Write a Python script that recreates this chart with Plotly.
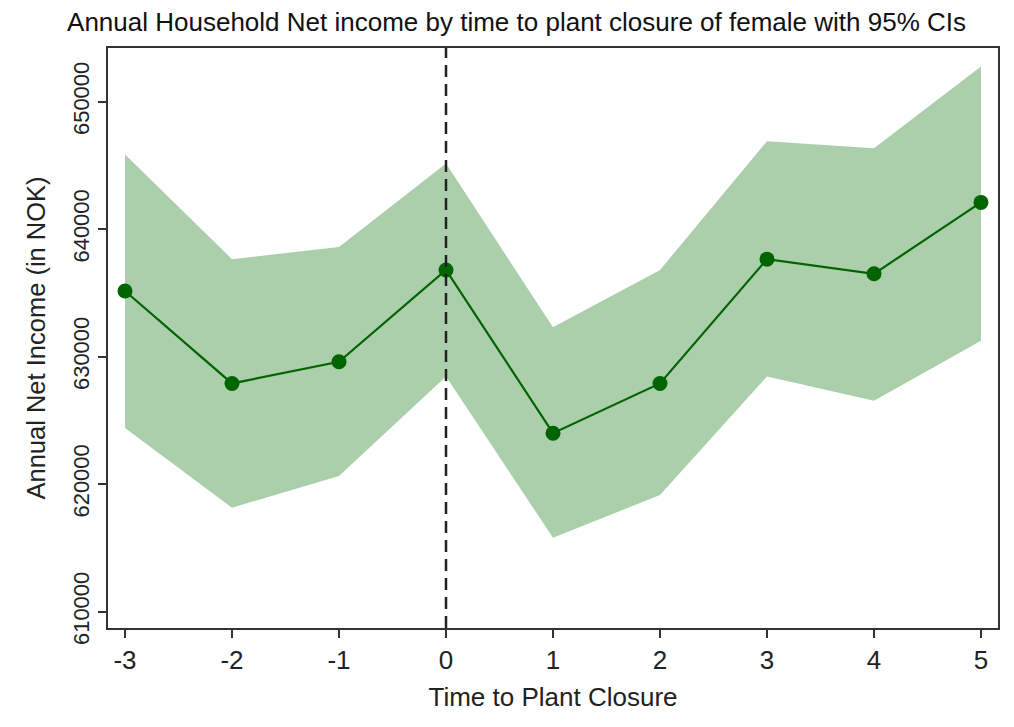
import plotly.graph_objects as go

time = [-3, -2, -1, 0, 1, 2, 3, 4, 5]
time_labels = ["-3", "-2", "-1", "0", "1", "2", "3", "4", "5"]
estimate = [635150, 627900, 629600, 636800, 624000, 627900, 637650, 636500, 642100]
upper_ci = [645850, 637650, 638600, 645150, 632300, 636800, 646900, 646350, 652750]
lower_ci = [624400, 618150, 620650, 628450, 615800, 619150, 628450, 626550, 631250]
y_ticks = [610000, 620000, 630000, 640000, 650000]
y_labels = ["610000", "620000", "630000", "640000", "650000"]

font = "Liberation Sans, Arial, sans-serif"
fig = go.Figure()
fig.add_trace(go.Scatter(x=time, y=upper_ci, mode="lines", line=dict(width=0),
                         hoverinfo="skip", showlegend=False))
fig.add_trace(go.Scatter(x=time, y=lower_ci, mode="lines", line=dict(width=0),
                         fill="tonexty", fillcolor="rgba(0,110,0,0.33)",
                         hoverinfo="skip", showlegend=False))
fig.add_trace(go.Scatter(x=time, y=estimate, mode="lines+markers",
                         line=dict(color="#006400", width=2.2),
                         marker=dict(color="#006400", size=15),
                         showlegend=False))
fig.add_vline(x=0, line=dict(color="#222222", width=2.5, dash="12px,7px"))

fig.update_layout(
    width=1014, height=727,
    margin=dict(l=100, r=24, t=40, b=107),
    paper_bgcolor="white", plot_bgcolor="white",
    font=dict(family=font, size=24, color="#222222"),
    title=dict(text="Annual Household Net income by time to plant closure of female with 95% CIs",
               x=0.5015, xanchor="center", y=0.981, yanchor="middle",
               font=dict(size=26, family=font, color="#111111")),
)
fig.update_xaxes(range=[-3.159, 5.159], tickvals=time, ticktext=time_labels,
                 ticks="outside", ticklen=8, automargin=False,
                 tickwidth=1.5, tickcolor="#333333", showgrid=False, zeroline=False,
                 showline=True, linecolor="#333333", linewidth=2, mirror=True,
                 title=dict(text="Time to Plant Closure", standoff=14, font=dict(size=26)),
                 tickfont=dict(size=26))
fig.update_yaxes(range=[608720, 654210], tickvals=y_ticks, ticktext=y_labels,
                 ticks="outside", ticklen=8, automargin=False,
                 tickwidth=1.5, tickcolor="#333333", showgrid=False, zeroline=False,
                 showline=True, linecolor="#333333", linewidth=2, mirror=True,
                 tickangle=-90,
                 title=dict(text="Annual Net Income (in NOK)", standoff=16, font=dict(size=25.5)),
                 tickfont=dict(size=22))

fig.write_html("out.html")
